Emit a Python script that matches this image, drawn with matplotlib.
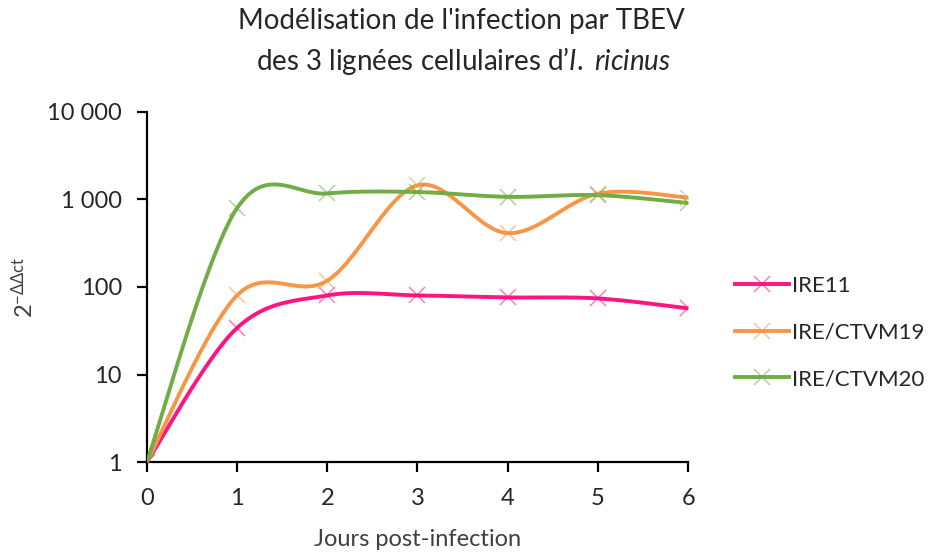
import numpy as np
import matplotlib
matplotlib.use("Agg")
import matplotlib.pyplot as plt
from matplotlib.lines import Line2D

plt.rcParams['font.family'] = ['Lato', 'DejaVu Sans']
plt.rcParams['mathtext.fontset'] = 'custom'
plt.rcParams['mathtext.rm'] = 'Lato'
plt.rcParams['mathtext.it'] = 'Lato:italic'

# Days post-infection and relative expression (2^-ΔΔCt)
days = [0, 1, 2, 3, 4, 5, 6]
ire11 = [1, 34, 80, 80, 76, 74, 57]
ctvm19 = [1, 80, 118, 1450, 412, 1165, 1050]
ctvm20 = [1, 795, 1170, 1215, 1070, 1120, 910]

series_names = ['IRE11', 'IRE/CTVM19', 'IRE/CTVM20']
series_values = [ire11, ctvm19, ctvm20]
line_colors = ['#FF1480', '#F79646', '#70AD47']

y_ticks = [1, 10, 100, 1000, 10000]
y_tick_labels = ['1', '10', '100', '1 000', '10 000']


def smooth_curve(x, y, n=40):
    """Bezier smoothing (Catmull-Rom style) in (x, log10 y) space."""
    px = np.asarray(x, float)
    py = np.log10(np.asarray(y, float))
    pts = np.column_stack([px, py])
    ext = np.vstack([pts[0], pts, pts[-1]])
    out = []
    t = np.linspace(0, 1, n)[:, None]
    for i in range(len(pts) - 1):
        p0 = ext[i + 1]
        p3 = ext[i + 2]
        c1 = p0 + (ext[i + 2] - ext[i]) / 6.0
        c2 = p3 - (ext[i + 3] - ext[i + 1]) / 6.0
        seg = ((1 - t) ** 3) * p0 + 3 * ((1 - t) ** 2) * t * c1 \
            + 3 * (1 - t) * t ** 2 * c2 + t ** 3 * p3
        out.append(seg if i == 0 else seg[1:])
    curve = np.vstack(out)
    return curve[:, 0], 10 ** curve[:, 1]


fig = plt.figure(figsize=(9.35, 5.54), dpi=100)
ax = fig.add_axes([0.157, 0.166, 0.579, 0.632])

handles = []
for name, vals, col in zip(series_names, series_values, line_colors):
    cx, cy = smooth_curve(days, vals)
    ax.plot(cx, cy, color=col, lw=2.8, solid_capstyle='round', zorder=3)
    ax.plot(days, vals, linestyle='none', marker='x', markersize=12,
            markeredgewidth=1.1, color=col, alpha=0.55, zorder=4)
    handles.append(Line2D([], [], color=col, lw=2.8, marker='x',
                          markersize=12, markeredgewidth=1.1,
                          markeredgecolor=matplotlib.colors.to_rgba(col, 0.55)))

ax.set_yscale('log')
ax.set_ylim(1, 10000)
ax.set_xlim(0, 6)
ax.set_yticks(y_ticks)
ax.set_yticklabels(y_tick_labels)
ax.yaxis.set_minor_locator(matplotlib.ticker.NullLocator())
ax.set_xticks(days)

for side in ['top', 'right']:
    ax.spines[side].set_visible(False)
for side in ['left', 'bottom']:
    ax.spines[side].set_linewidth(1.6)
    ax.spines[side].set_color('black')
ax.tick_params(axis='both', direction='out', length=7, width=1.6,
               labelsize=17, colors='black', labelcolor='#262626')
ax.tick_params(axis='y', pad=11)
ax.tick_params(axis='x', pad=12)

ax.set_xlabel('Jours post-infection', fontsize=17, color='#404040', labelpad=14)
ax.set_ylabel(r'$\mathregular{2^{-\Delta\Delta ct}}$', fontsize=17,
              color='#404040', labelpad=7)

fig.text(0.493, 0.962, "Modélisation de l'infection par TBEV",
         ha='center', va='center', fontsize=20, color='#262626')
fig.text(0.496, 0.89, "des 3 lignées cellulaires d\u2019$\\it{I.}$ $\\it{ricinus}$",
         ha='center', va='center', fontsize=20, color='#262626')

leg = ax.legend(handles, series_names, loc='center left',
                bbox_to_anchor=(1.087, 0.37), frameon=False, fontsize=16,
                handlelength=2.4, labelspacing=1.2, handletextpad=0.15,
                borderpad=0, borderaxespad=0, labelcolor='#262626')

fig.savefig('out.png', dpi=100)
